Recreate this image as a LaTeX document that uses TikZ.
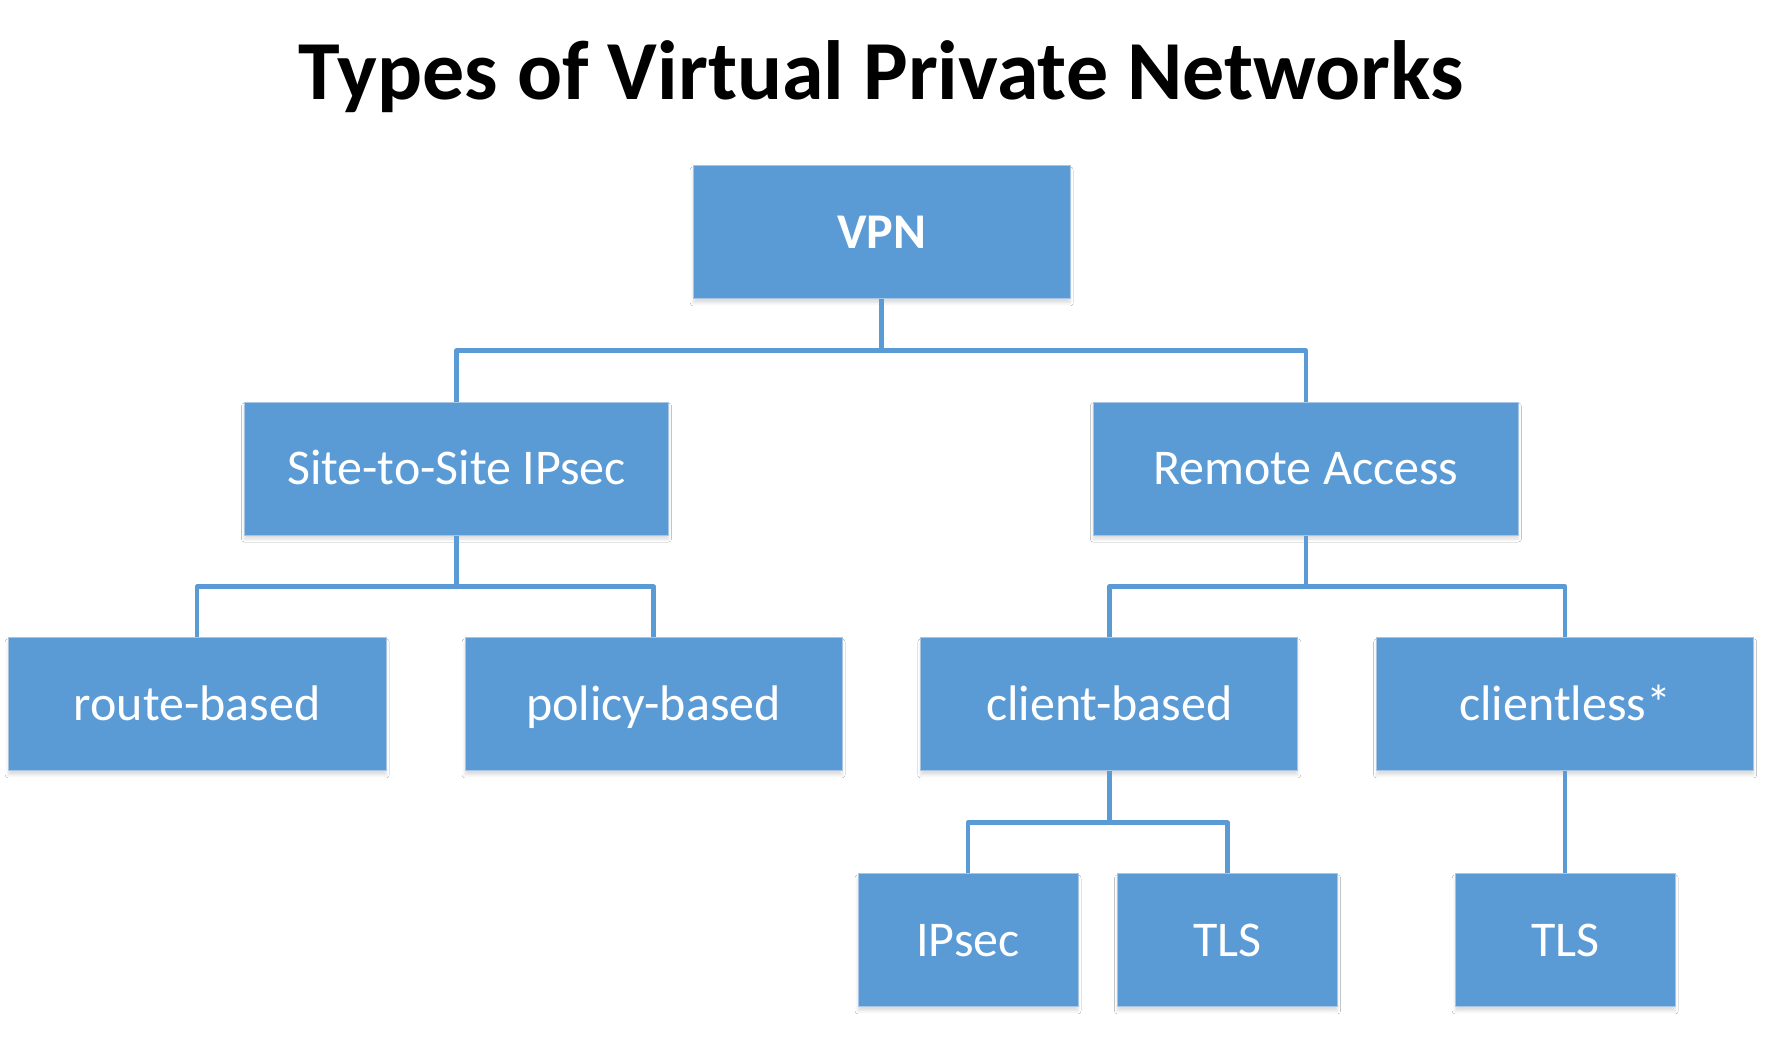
\documentclass[tikz,border=0pt]{standalone}
\usepackage{fontspec}
\setmainfont{Carlito}
\usetikzlibrary{shadows.blur}
\definecolor{vblue}{HTML}{5B9BD5}
\definecolor{vedge}{HTML}{A9C5E4}
\begin{document}
\begin{tikzpicture}[x=1pt,y=-1pt,
  box/.style={fill=vblue, draw=vedge, line width=1pt, minimum height=133pt, inner sep=0pt,
    blur shadow={shadow xshift=0pt, shadow yshift=-4pt, shadow blur radius=3pt, shadow opacity=14, shadow blur steps=6}},
  wide/.style={box, minimum width=377pt},
  narrow/.style={box, minimum width=220pt},
  lbl/.style={text=white, font=\fontsize{50}{60}\selectfont, anchor=base},
  link/.style={draw=vblue, line width=4.5pt, line join=round}
]
\useasboundingbox (0,0) rectangle (1765,1052);
\fill[white] (0,0) rectangle (1765,1052);

\node[anchor=base, font=\fontsize{84}{96}\selectfont\bfseries] (title) at (881,99) {Types of Virtual Private Networks};

% boxes
\node[wide] (vpn) at (881.7,232.4) {};
\node[wide, minimum width=424pt] (s2s) at (456.5,468.5) {};
\node[wide, minimum width=425pt] (ra) at (1305.8,468.5) {};
\node[wide, minimum width=378pt] (route) at (197.2,704.4) {};
\node[wide] (policy) at (653.5,704.4) {};
\node[wide] (client) at (1109.3,704.4) {};
\node[wide] (clientless) at (1565.2,704.4) {};
\node[narrow] (ipsec) at (968,940.4) {};
\node[narrow] (tlsa) at (1227.5,940.4) {};
\node[narrow] (tlsb) at (1565.2,940.4) {};

% labels
\node[lbl, font=\fontsize{50}{60}\selectfont\bfseries] (tvpn) at ([yshift=-16pt]vpn.center) {VPN};
\node[lbl] (ts2s) at ([yshift=-16pt]s2s.center) {Site-to-Site IPsec};
\node[lbl] (tra) at ([yshift=-16pt]ra.center) {Remote Access};
\node[lbl] (troute) at ([yshift=-16pt]route.center) {route-based};
\node[lbl] (tpolicy) at ([yshift=-16pt]policy.center) {policy-based};
\node[lbl] (tclient) at ([yshift=-16pt]client.center) {client-based};
\node[lbl] (tclientless) at ([yshift=-16pt]clientless.center) {clientless*};
\node[lbl] (tipsec) at ([yshift=-16pt]ipsec.center) {IPsec};
\node[lbl] (ttlsa) at ([yshift=-16pt]tlsa.center) {TLS};
\node[lbl] (ttlsb) at ([yshift=-16pt]tlsb.center) {TLS};

% bar coordinates
\coordinate (b1) at (881.7,350.7);
\coordinate (b2) at (456.5,586.7);
\coordinate (b3) at (1305.8,586.7);
\coordinate (b4) at (1109.3,822.7);

% connectors
\draw[link] (vpn.south) -- (b1) -| (s2s.north);
\draw[link] (b1) -| (ra.north);
\draw[link] (s2s.south) -- (b2) -| (route.north);
\draw[link] (b2) -| (policy.north);
\draw[link] (ra.south) -- (b3) -| (client.north);
\draw[link] (b3) -| (clientless.north);
\draw[link] (client.south) -- (b4) -| (ipsec.north);
\draw[link] (b4) -| (tlsa.north);
\draw[link] (clientless.south) -- (tlsb.north);
\end{tikzpicture}
\end{document}
